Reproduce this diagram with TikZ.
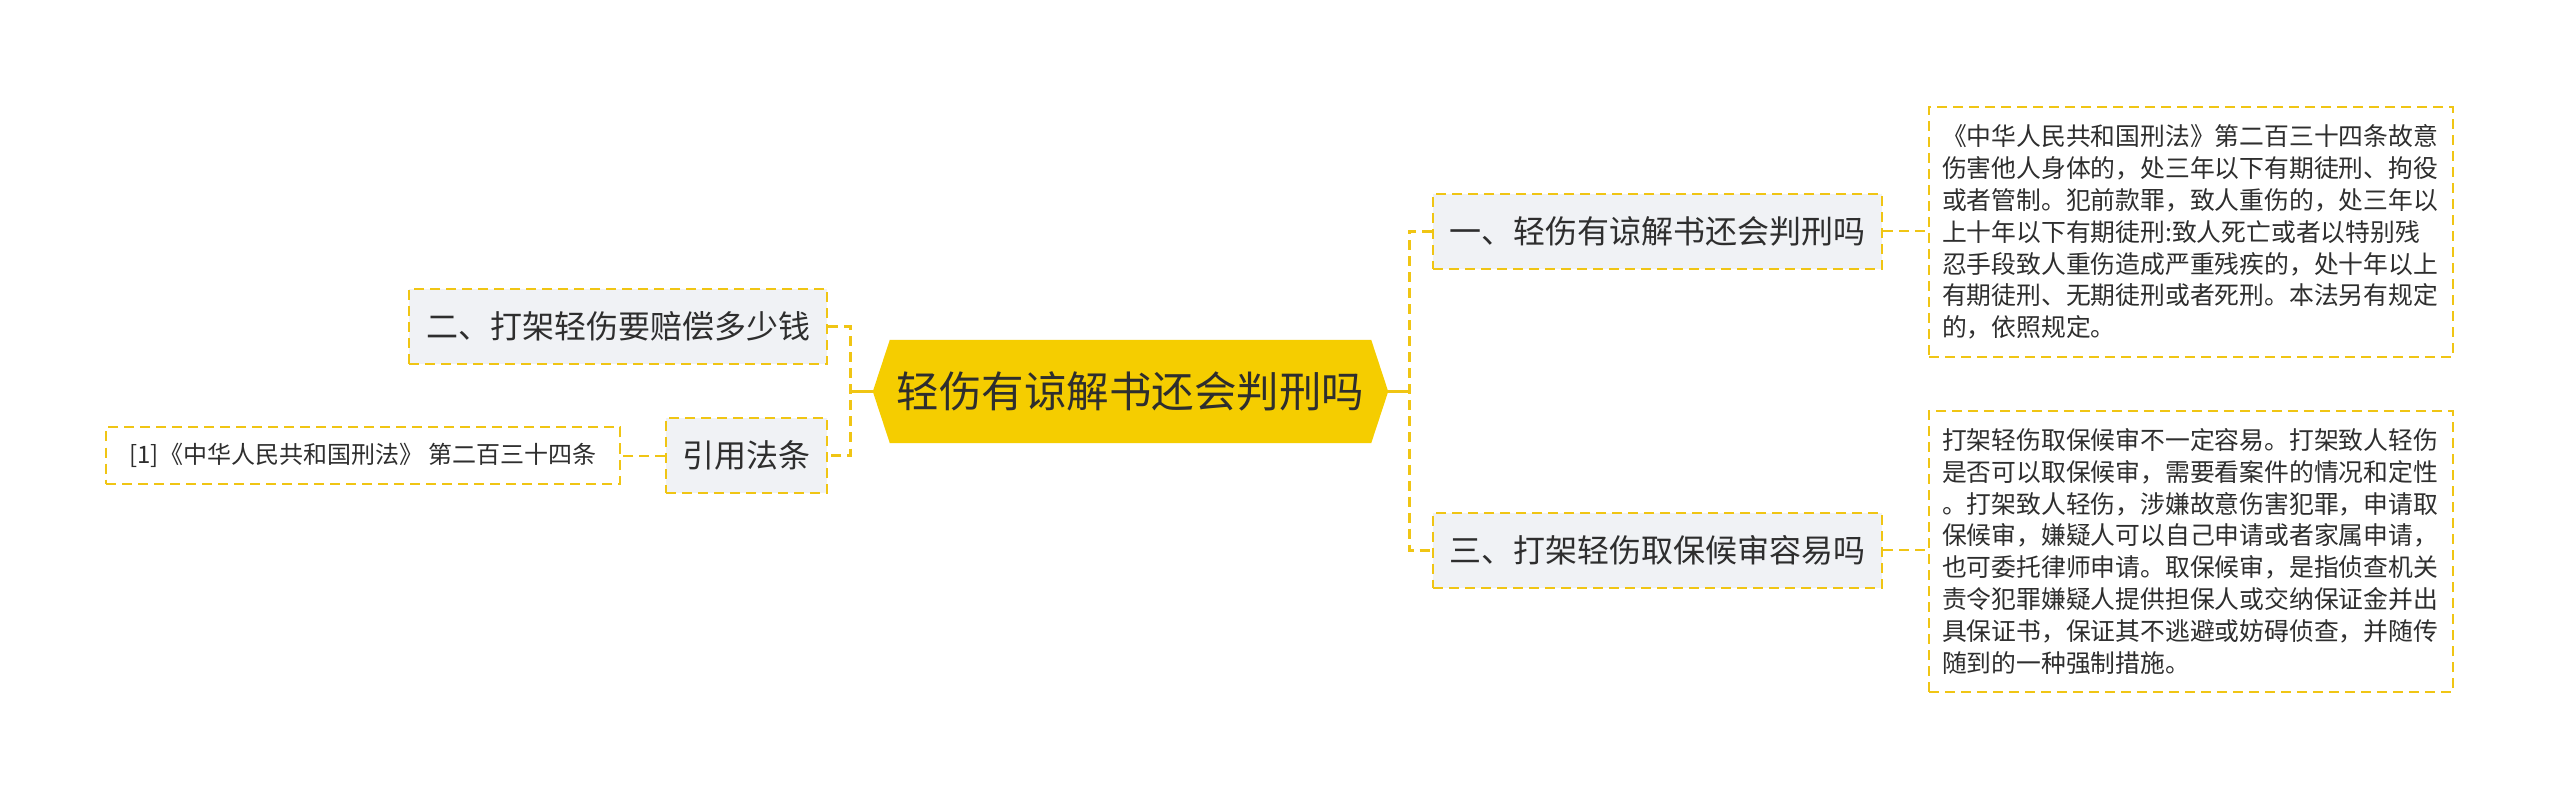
\documentclass[tikz,border=0pt]{standalone}
\usepackage{fontspec}
\setmainfont{Noto Sans CJK SC}
\usetikzlibrary{backgrounds}
\definecolor{hubyellow}{HTML}{F5CD00}
\definecolor{lineyellow}{HTML}{F0C514}
\definecolor{boxgray}{HTML}{F0F2F5}
\definecolor{inktext}{HTML}{2E2E2E}
\tikzset{
  rootnode/.style={inner sep=0pt, minimum width=515pt, minimum height=103pt, text=inktext,
    font=\fontsize{42.5}{50}\selectfont},
  topic/.style={draw=lineyellow, line width=2pt, dash pattern=on 10pt off 6pt, fill=boxgray,
    inner sep=0pt, minimum height=75pt, text=inktext, font=\fontsize{32}{38}\selectfont},
  note/.style={draw=lineyellow, line width=2pt, dash pattern=on 10pt off 6pt, fill=white,
    inner xsep=13pt, inner ysep=0pt, text=inktext, align=left,
    font=\fontsize{24.8}{31.9}\selectfont},
  trunk/.style={draw=lineyellow, line width=3pt, dash pattern=on 10pt off 6pt},
  stub/.style={draw=lineyellow, line width=3pt},
  thinlink/.style={draw=lineyellow, line width=2pt, dash pattern=on 10pt off 6pt},
}
\begin{document}
\begin{tikzpicture}[x=1pt, y=-1pt]
\begin{scope}[on background layer]
\fill[white] (0,0) rectangle (2560,799);
\end{scope}
\path[use as bounding box] (0,0) rectangle (2560,799);

% central node
\node[rootnode] (root) at (1130.5,391.5) {轻伤有谅解书还会判刑吗};
\begin{scope}[on background layer]
\fill[hubyellow] (root.west) -- ([xshift=17pt]root.north west) -- ([xshift=-17pt]root.north east)
  -- (root.east) -- ([xshift=-17pt]root.south east) -- ([xshift=17pt]root.south west) -- cycle;
\end{scope}

% right side
\node[topic, minimum width=449pt] (n1) at (1657.5,231.5) {一、轻伤有谅解书还会判刑吗};
\node[topic, minimum width=449pt] (n3) at (1657.5,550) {三、打架轻伤取保候审容易吗};

\node[note, text width=498pt, minimum height=250pt] (t1) at (2191,232) {%
《中华人民共和国刑法》第二百三十四条故意\\
伤害他人身体的，处三年以下有期徒刑、拘役\\
或者管制。犯前款罪，致人重伤的，处三年以\\
上十年以下有期徒刑:致人死亡或者以特别残\\
忍手段致人重伤造成严重残疾的，处十年以上\\
有期徒刑、无期徒刑或者死刑。本法另有规定\\
的，依照规定。};

\node[note, text width=498pt, minimum height=281pt] (t2) at (2191,551.5) {%
打架轻伤取保候审不一定容易。打架致人轻伤\\
是否可以取保候审，需要看案件的情况和定性\\
。打架致人轻伤，涉嫌故意伤害犯罪，申请取\\
保候审，嫌疑人可以自己申请或者家属申请，\\
也可委托律师申请。取保候审，是指侦查机关\\
责令犯罪嫌疑人提供担保人或交纳保证金并出\\
具保证书，保证其不逃避或妨碍侦查，并随传\\
随到的一种强制措施。};

% left side
\node[topic, minimum width=418pt] (n2) at (618,326.5) {二、打架轻伤要赔偿多少钱};
\node[topic, minimum width=161pt] (ref) at (746.5,455.5) {引用法条};
\node[draw=lineyellow, line width=2pt, dash pattern=on 10pt off 6pt, fill=white,
  minimum width=514pt, minimum height=56pt, inner sep=0pt, text=inktext,
  font=\fontsize{24}{28}\selectfont] (cite) at (363,455.5)
  {[1]《中华人民共和国刑法》 第二百三十四条};

% junctions
\coordinate (Rjoin) at (1409,391.5);
\coordinate (Ljoin) at (850,391.5);

% connectors
\draw[stub] (root.east) -- (Rjoin);
\draw[trunk] (n1.west) -- (n1.west -| Rjoin) -- (n3.west -| Rjoin) -- (n3.west);
\draw[stub] (root.west) -- (Ljoin);
\draw[trunk] (n2.east) -- (n2.east -| Ljoin) -- (ref.east -| Ljoin) -- (ref.east);
\draw[thinlink] (n1.east) -- (n1.east -| t1.west);
\draw[thinlink] (n3.east) -- (n3.east -| t2.west);
\draw[thinlink] (ref.west) -- (ref.west -| cite.east);
\end{tikzpicture}
\end{document}
